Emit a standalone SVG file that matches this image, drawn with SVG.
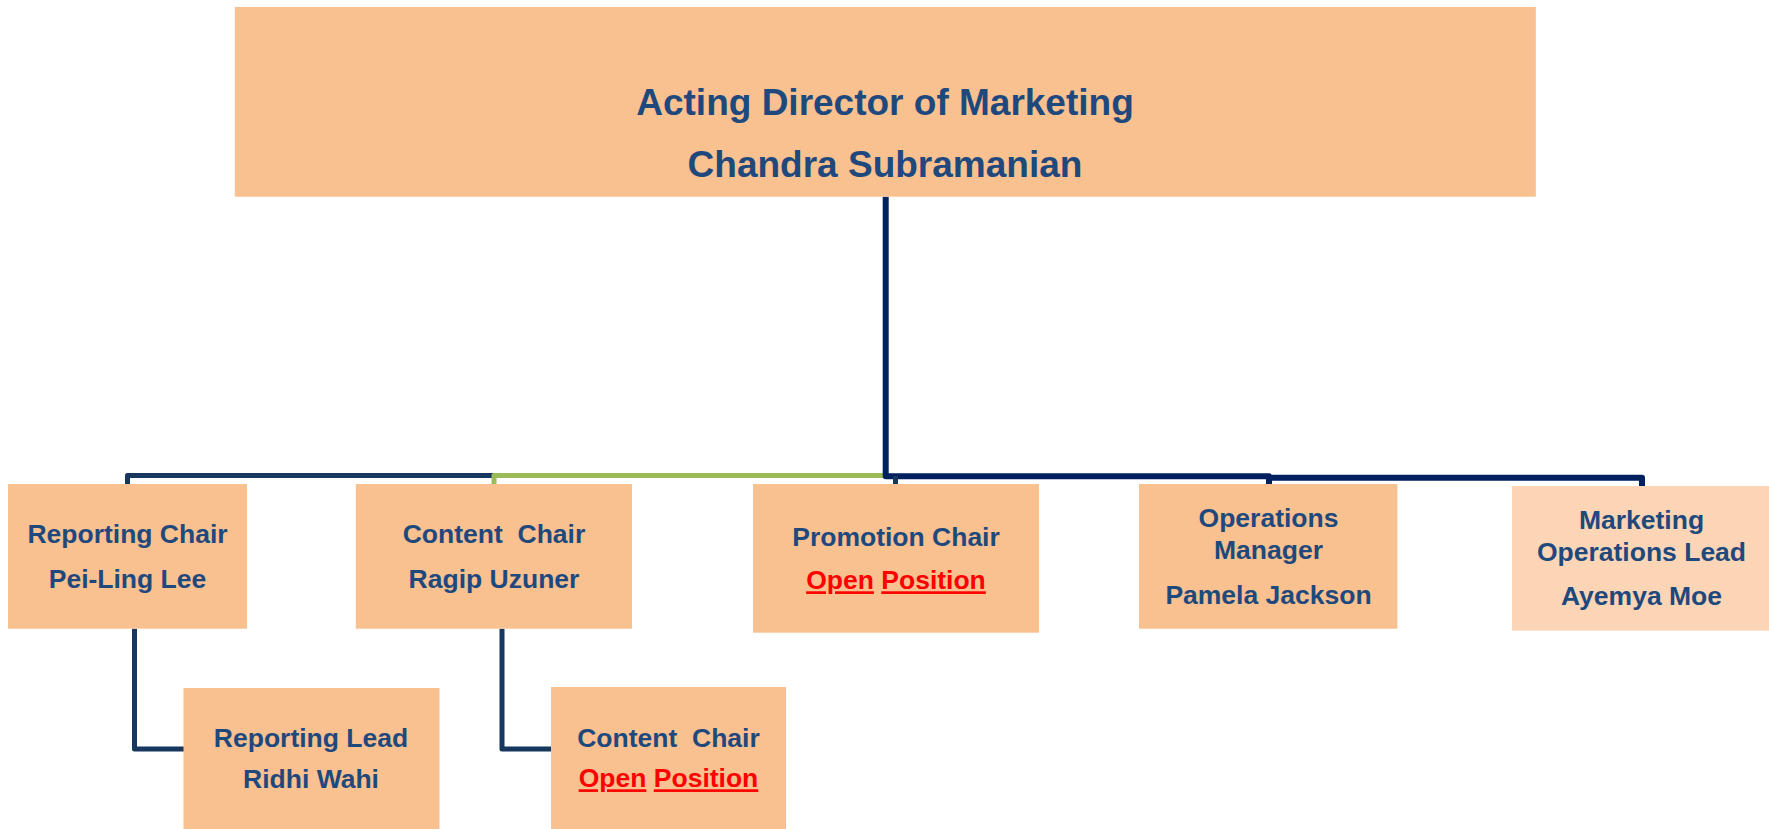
<svg xmlns="http://www.w3.org/2000/svg" width="1769" height="829" viewBox="0 0 1769 829">
<style>
.box{fill:#F9C090}
.light{fill:#FBD5B5}
.t{font-family:"Liberation Sans",Arial,sans-serif;font-weight:bold;fill:#1F497D;text-anchor:middle;font-size:26.5px}
.big{font-size:37px}
.open{fill:#FF0000;text-decoration:underline}
.c{fill:none;stroke-linejoin:round;stroke-linecap:butt}
.navy{stroke:#002060;stroke-width:6}
.dark{stroke:#17375E;stroke-width:5}
.green{stroke:#9BBB59;stroke-width:5}
</style>
<rect width="1769" height="829" fill="#FFFFFF"/>
<g id="connectors">
<path class="c dark" d="M127.5 484 V475.5 H494"/>
<path class="c green" d="M494 484 V475.5 H884"/>
<path class="c navy" d="M885.7 196.7 V476.3 H1269 V484"/>
<path class="c navy" d="M1266 477.7 H1642 V486"/>
<path class="c dark" d="M895.5 476 V484"/>
<path class="c dark" d="M134.5 628.7 V749 H184"/>
<path class="c dark" d="M502 628.7 V749 H551"/>
</g>
<g id="director">
<rect class="box" x="234.8" y="7" width="1301" height="189.7"/>
<text class="t big" x="885" y="115">Acting Director of Marketing</text>
<text class="t big" x="885" y="177">Chandra Subramanian</text>
</g>
<g id="reporting-chair">
<rect class="box" x="8" y="484" width="239" height="144.7"/>
<text class="t" x="127.5" y="543.3">Reporting Chair</text>
<text class="t" x="127.5" y="588.3">Pei-Ling Lee</text>
</g>
<g id="content-chair">
<rect class="box" x="355.8" y="484" width="276.2" height="144.7"/>
<text class="t" x="494" y="543.3" xml:space="preserve">Content  Chair</text>
<text class="t" x="494" y="588.3">Ragip Uzuner</text>
</g>
<g id="promotion-chair">
<rect class="box" x="753" y="484" width="286" height="148.7"/>
<text class="t" x="896" y="546">Promotion Chair</text>
<text class="t" x="896" y="589.3"><tspan class="open">Open</tspan> <tspan class="open">Position</tspan></text>
</g>
<g id="operations-manager">
<rect class="box" x="1139" y="484" width="258.4" height="144.7"/>
<text class="t" x="1268.5" y="527.3">Operations</text>
<text class="t" x="1268.5" y="559">Manager</text>
<text class="t" x="1268.5" y="604.3">Pamela Jackson</text>
</g>
<g id="marketing-operations-lead">
<rect class="light" x="1512" y="486" width="257" height="144.7"/>
<text class="t" x="1641.5" y="529.3">Marketing</text>
<text class="t" x="1641.5" y="560.7">Operations Lead</text>
<text class="t" x="1641.5" y="605">Ayemya Moe</text>
</g>
<g id="reporting-lead">
<rect class="box" x="183.5" y="688" width="256" height="141"/>
<text class="t" x="311" y="747.3">Reporting Lead</text>
<text class="t" x="311" y="788.3">Ridhi Wahi</text>
</g>
<g id="content-chair-open">
<rect class="box" x="551" y="687" width="235" height="142"/>
<text class="t" x="668.5" y="746.7" xml:space="preserve">Content  Chair</text>
<text class="t" x="668.5" y="787.3"><tspan class="open">Open</tspan> <tspan class="open">Position</tspan></text>
</g>
</svg>
